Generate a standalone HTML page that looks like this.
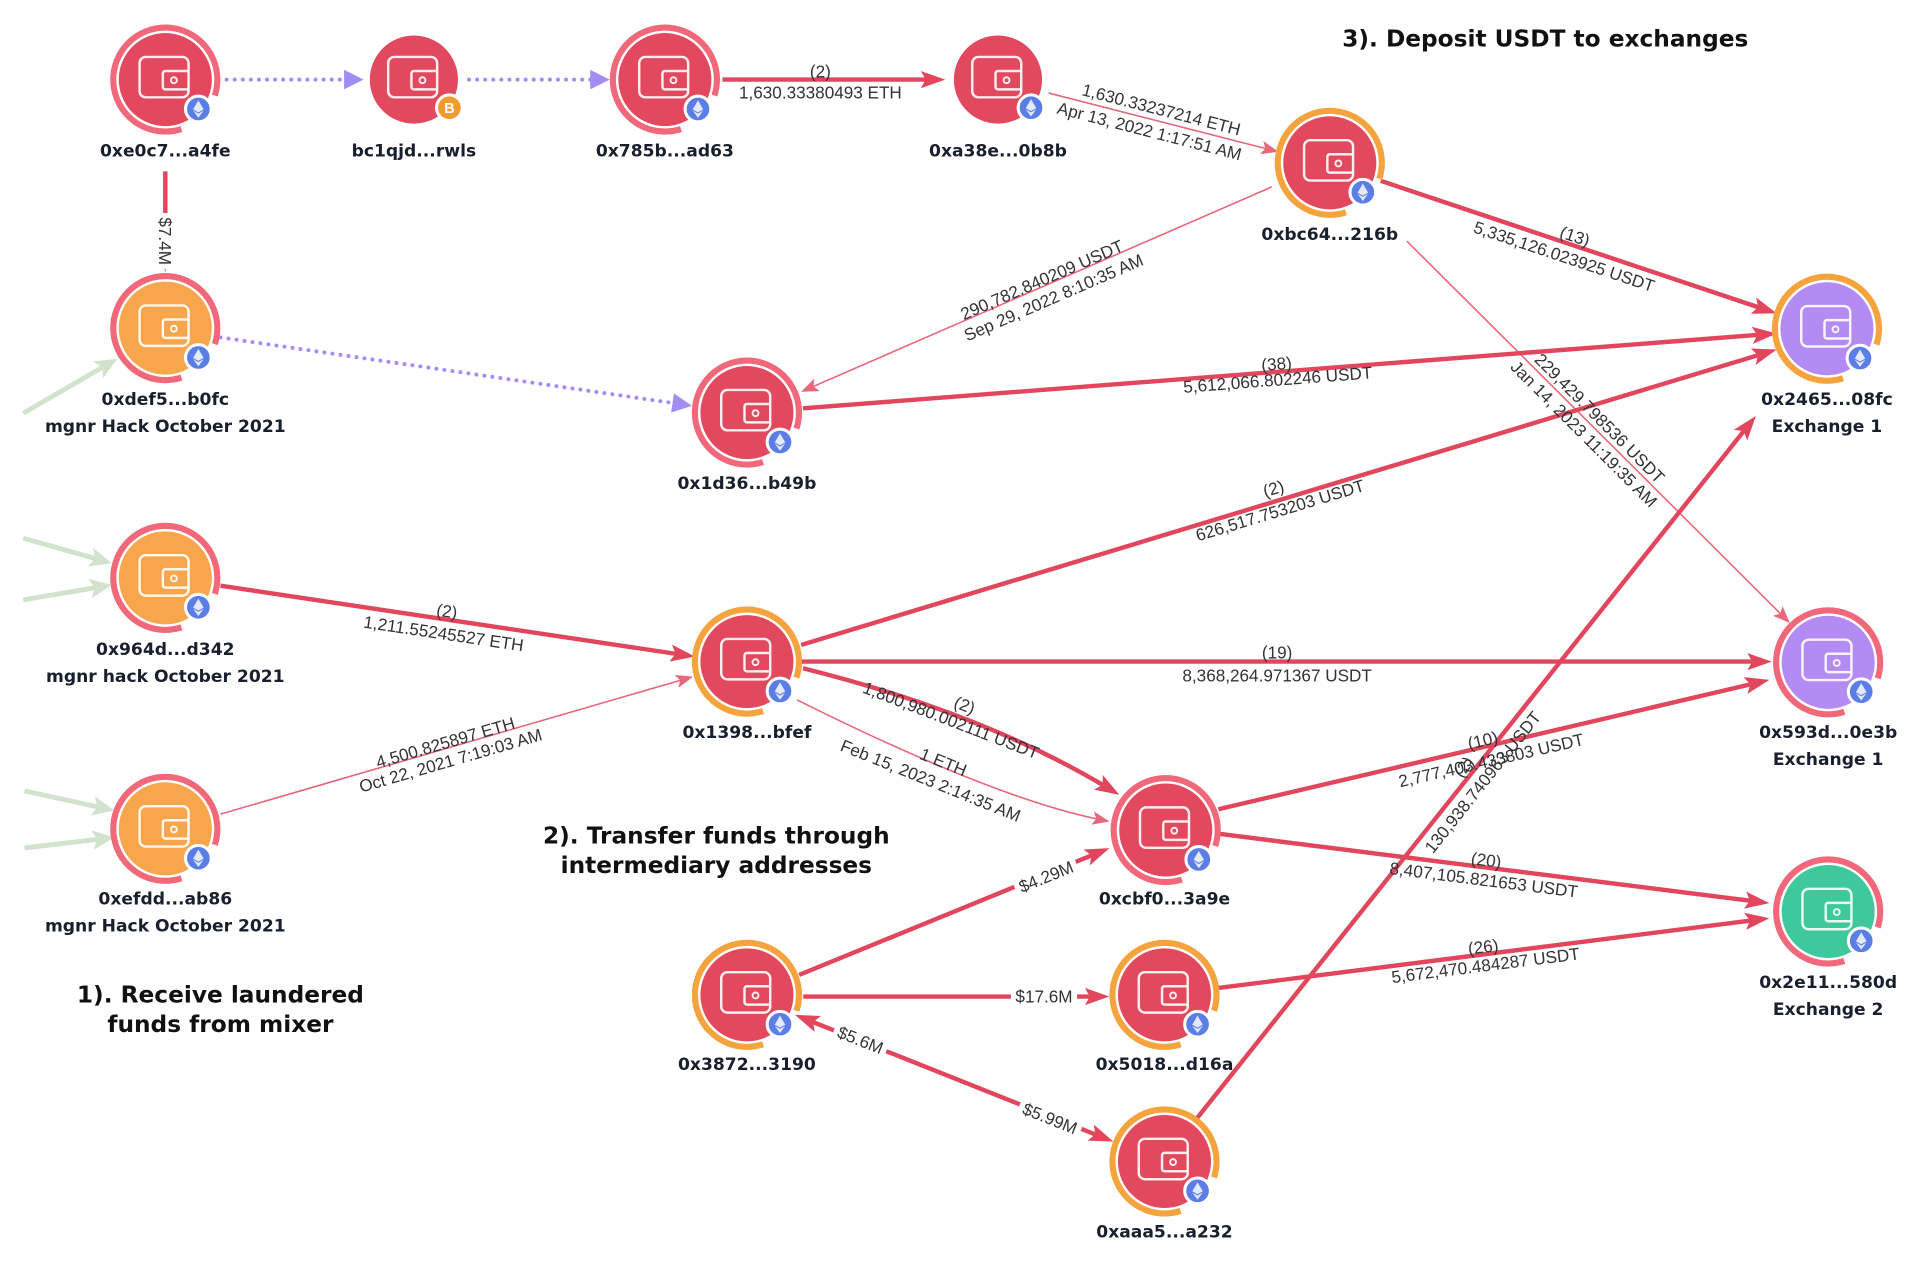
<!DOCTYPE html>
<html><head><meta charset="utf-8"><style>
html,body{margin:0;padding:0;background:#fff;}
svg{display:block;}
.el{font-family:"Liberation Sans",Arial,sans-serif;font-size:14px;fill:#333;text-anchor:middle;}
.nl{font-family:"DejaVu Sans","Liberation Sans",sans-serif;font-weight:bold;font-size:14px;fill:#18202e;text-anchor:middle;}
.an{font-family:"DejaVu Sans","Liberation Sans",sans-serif;font-weight:bold;font-size:19px;fill:#111;text-anchor:middle;}
</style></head><body>
<svg width="1920" height="1261" viewBox="0 0 1568 1030" preserveAspectRatio="none" xmlns="http://www.w3.org/2000/svg">
<defs>
<marker id="aR" viewBox="0 0 20 16" refX="8" refY="8" markerWidth="20" markerHeight="16" markerUnits="userSpaceOnUse" orient="auto"><path d="M0,1 L20,8 L0,15 L4,8Z" fill="#e1465d"/></marker>
<marker id="aRs" viewBox="0 0 20 16" refX="8" refY="8" markerWidth="20" markerHeight="16" markerUnits="userSpaceOnUse" orient="auto-start-reverse"><path d="M0,1 L20,8 L0,15 L4,8Z" fill="#e1465d"/></marker>
<marker id="aT" viewBox="0 0 14 11" refX="6" refY="5.5" markerWidth="14" markerHeight="11" markerUnits="userSpaceOnUse" orient="auto"><path d="M0,0 L14,5.5 L0,11 L3,5.5Z" fill="#e8687b"/></marker>
<marker id="aP" viewBox="0 0 16 16" refX="8" refY="8" markerWidth="16" markerHeight="16" markerUnits="userSpaceOnUse" orient="auto"><path d="M0,0 L16,8 L0,16Z" fill="#a58cf2"/></marker>
<marker id="aG" viewBox="0 0 18 16" refX="7" refY="8" markerWidth="18" markerHeight="16" markerUnits="userSpaceOnUse" orient="auto"><path d="M0,0 L18,8 L0,16 L4,8Z" fill="#d1e2cd"/></marker>
<g id="wal" fill="none" stroke="#fff" stroke-opacity="0.9" stroke-width="2">
<rect x="-21" y="-18.5" width="40" height="33" rx="5"/>
<path d="M19,-7 H0 a2,2 0 0 0 -2,2 V6 a2,2 0 0 0 2,2 H19"/>
<circle cx="7" cy="0.5" r="2.4" stroke-width="1.6"/>
</g>
<g id="eth"><circle r="10.5" fill="#5b7ee6" stroke="#fff" stroke-width="2.5"/>
<path d="M0,-7 L4.3,0.3 L0,2.8 L-4.3,0.3Z" fill="#e3e9ff"/>
<path d="M0,3.8 L4.3,1.3 L0,7.2 L-4.3,1.3Z" fill="#e3e9ff"/></g>
</defs>

<!-- green incoming -->
<g stroke="#d1e2cd" stroke-width="4" fill="none">
<line x1="19" y1="337.5" x2="86.2" y2="298.6" marker-end="url(#aG)"/>
<line x1="19" y1="439.6" x2="80.6" y2="457" marker-end="url(#aG)"/>
<line x1="19" y1="490" x2="80.4" y2="479.6" marker-end="url(#aG)"/>
<line x1="20" y1="646" x2="82.6" y2="659.7" marker-end="url(#aG)"/>
<line x1="20" y1="692.6" x2="82.4" y2="685.3" marker-end="url(#aG)"/>
</g>

<!-- purple dotted -->
<g stroke="#a58cf2" stroke-width="3.2" fill="none" stroke-linecap="round" stroke-dasharray="0.1 6.5">
<line x1="185" y1="65" x2="289" y2="65" marker-end="url(#aP)"/>
<line x1="383" y1="65" x2="490" y2="65" marker-end="url(#aP)"/>
<line x1="180" y1="275.6" x2="557.1" y2="330.3" marker-end="url(#aP)"/>
</g>

<!-- thin edges -->
<g stroke="#e8687b" stroke-width="1.3" fill="none">
<line x1="856.5" y1="76" x2="1036.2" y2="122" marker-end="url(#aT)"/>
<line x1="1038.8" y1="152.6" x2="661.6" y2="316.8" marker-end="url(#aT)"/>
<line x1="1149" y1="197" x2="1456.1" y2="503.3" marker-end="url(#aT)"/>
<line x1="180" y1="665" x2="558.3" y2="554.9" marker-end="url(#aT)"/>
<path d="M651,571.7 Q812,652 898.2,669.4" marker-end="url(#aT)"/>
</g>

<!-- thick edges -->
<g stroke="#e1465d" stroke-width="3.6" fill="none">
<line x1="590" y1="65" x2="760" y2="65" marker-end="url(#aR)"/>
<line x1="135" y1="140" x2="135" y2="210" marker-end="url(#aR)"/>
<line x1="1127.6" y1="147.7" x2="1439.6" y2="252.2" marker-end="url(#aR)"/>
<line x1="655.8" y1="333.5" x2="1439" y2="273.3" marker-end="url(#aR)"/>
<line x1="654.3" y1="526.8" x2="1439.5" y2="289" marker-end="url(#aR)"/>
<line x1="180" y1="478.4" x2="555.7" y2="534.6" marker-end="url(#aR)"/>
<line x1="654.4" y1="540.4" x2="1435" y2="540.4" marker-end="url(#aR)"/>
<path d="M655.8,545.8 Q803,582.6 903.9,643.1" marker-end="url(#aR)"/>
<line x1="995" y1="661" x2="1433.3" y2="558.1" marker-end="url(#aR)"/>
<line x1="995" y1="681" x2="1433.1" y2="736.2" marker-end="url(#aR)"/>
<line x1="995" y1="807" x2="1433.1" y2="751.5" marker-end="url(#aR)"/>
<line x1="977.6" y1="913.3" x2="1426.5" y2="349.1" marker-end="url(#aR)"/>
<line x1="652.7" y1="796.3" x2="894.9" y2="697.3" marker-end="url(#aR)"/>
<line x1="656" y1="814" x2="894" y2="814" marker-end="url(#aR)"/>
<line x1="660.4" y1="833.4" x2="898.2" y2="928.1" marker-start="url(#aRs)" marker-end="url(#aR)"/>
</g>

<!-- edge labels -->
<g class="el">
<text x="670" y="63.5">(2)</text><text x="670" y="80.5">1,630.33380493 ETH</text>
<g transform="translate(944,98.5) rotate(14.4)"><text x="2" y="-5">1,630.33237214 ETH</text><text x="-3" y="14.5">Apr 13, 2022 1:17:51 AM</text></g>
<g transform="translate(853,233.5) rotate(-23.5)"><text y="-0.5">290,782.840209 USDT</text><text x="3" y="16.5">Sep 29, 2022 8:10:35 AM</text></g>
<g transform="translate(1281,199) rotate(18.5)"><text x="3" y="-2.5">(13)</text><text y="16">5,335,126.023925 USDT</text></g>
<g transform="translate(1043,303.7) rotate(-4.4)"><text y="-1.7">(38)</text><text y="11.3">5,612,066.802246 USDT</text></g>
<g transform="translate(1043,409) rotate(-16.85)"><text y="-5.5">(2)</text><text y="13">626,517.753203 USDT</text></g>
<g transform="translate(1300,348) rotate(45)"><text y="-4.2">229,429.798536 USDT</text><text y="14">Jan 14, 2023 11:19:35 AM</text></g>
<g transform="translate(364,506) rotate(8.5)"><text y="-2">(2)</text><text y="16.5">1,211.55245527 ETH</text></g>
<g transform="translate(365,611) rotate(-16.2)"><text y="0.2">4,500.825897 ETH</text><text y="15.5">Oct 22, 2021 7:19:03 AM</text></g>
<text x="1043" y="538">(19)</text><text x="1043" y="556.5">8,368,264.971367 USDT</text>
<g transform="translate(782,580) rotate(21)"><text x="4" y="-1">(2)</text><text x="-2" y="14.5">1,800,980.002111 USDT</text></g>
<g transform="translate(769,626) rotate(22)"><text y="1">1 ETH</text><text x="-4" y="19">Feb 15, 2023 2:14:35 AM</text></g>
<g transform="translate(1212,609.4) rotate(-13)"><text y="0">(10)</text><text x="3" y="17.5">2,777,403.433803 USDT</text></g>
<g transform="translate(1213,708.6) rotate(7.2)"><text y="-1.2">(20)</text><text y="15">8,407,105.821653 USDT</text></g>
<g transform="translate(1212,779.4) rotate(-7.2)"><text y="-1.2">(26)</text><text y="14">5,672,470.484287 USDT</text></g>
<g transform="translate(1201.8,631.6) rotate(-51.5)"><text y="-3.5">(2)</text><text y="16.5">130,938.740963 USDT</text></g>
<g transform="translate(135,197) rotate(90)"><rect x="-23" y="-9" width="46" height="18" fill="#fff"/><text y="5">$7.4M</text></g>
<g transform="translate(854.2,716) rotate(-22.2)"><rect x="-27" y="-9" width="54" height="18" fill="#fff"/><text y="5">$4.29M</text></g>
<g transform="translate(852.6,814)"><rect x="-27" y="-9" width="54" height="18" fill="#fff"/><text y="5">$17.6M</text></g>
<g transform="translate(702.7,849.4) rotate(21.7)"><rect x="-23" y="-9" width="46" height="18" fill="#fff"/><text y="5">$5.6M</text></g>
<g transform="translate(857.5,913.4) rotate(21.7)"><rect x="-27" y="-9" width="54" height="18" fill="#fff"/><text y="5">$5.99M</text></g>
</g>

<!-- nodes -->
<!-- ringed: ring r=42.5 -->
<g transform="translate(135,65)"><circle r="42.5" fill="none" stroke="#f0687a" stroke-width="5" stroke-dasharray="13.3 40 213.7"/><circle r="38" fill="#e2485e"/><use href="#wal"/><use href="#eth" x="27" y="24"/></g>
<g transform="translate(338,65)"><circle r="36" fill="#e2485e"/><use href="#wal"/><circle cx="29" cy="23" r="10.5" fill="#f29a2e" stroke="#fff" stroke-width="2.5"/><text x="29" y="27.5" font-family="Liberation Sans,sans-serif" font-weight="bold" font-size="12" fill="#fff" text-anchor="middle">B</text></g>
<g transform="translate(543,65)"><circle r="42.5" fill="none" stroke="#f0687a" stroke-width="5" stroke-dasharray="13.3 40 213.7"/><circle r="38" fill="#e2485e"/><use href="#wal"/><use href="#eth" x="27" y="24"/></g>
<g transform="translate(815,65)"><circle r="36" fill="#e2485e"/><use href="#wal"/><use href="#eth" x="27" y="23"/></g>
<g transform="translate(1086,133)"><circle r="42.5" fill="none" stroke="#f5a33d" stroke-width="5" stroke-dasharray="13.3 40 213.7"/><circle r="38" fill="#e2485e"/><use href="#wal"/><use href="#eth" x="27" y="24"/></g>
<g transform="translate(135,268)"><circle r="42.5" fill="none" stroke="#f0687a" stroke-width="5" stroke-dasharray="13.3 40 213.7"/><circle r="38" fill="#f7a64b"/><use href="#wal"/><use href="#eth" x="27" y="24"/></g>
<g transform="translate(610,337)"><circle r="42.5" fill="none" stroke="#f0687a" stroke-width="5" stroke-dasharray="13.3 40 213.7"/><circle r="38" fill="#e2485e"/><use href="#wal"/><use href="#eth" x="27" y="24"/></g>
<g transform="translate(1492,268.5)"><circle r="42.5" fill="none" stroke="#f5a33d" stroke-width="5" stroke-dasharray="13.3 40 213.7"/><circle r="38" fill="#b48af3"/><use href="#wal"/><use href="#eth" x="27" y="24"/></g>
<g transform="translate(135,472)"><circle r="42.5" fill="none" stroke="#f0687a" stroke-width="5" stroke-dasharray="13.3 40 213.7"/><circle r="38" fill="#f7a64b"/><use href="#wal"/><use href="#eth" x="27" y="24"/></g>
<g transform="translate(610,540.4)"><circle r="42.5" fill="none" stroke="#f5a33d" stroke-width="5" stroke-dasharray="13.3 40 213.7"/><circle r="38" fill="#e2485e"/><use href="#wal"/><use href="#eth" x="27" y="24"/></g>
<g transform="translate(1493,541)"><circle r="42.5" fill="none" stroke="#f0687a" stroke-width="5" stroke-dasharray="13.3 40 213.7"/><circle r="38" fill="#b48af3"/><use href="#wal"/><use href="#eth" x="27" y="24"/></g>
<g transform="translate(135,677)"><circle r="42.5" fill="none" stroke="#f0687a" stroke-width="5" stroke-dasharray="13.3 40 213.7"/><circle r="38" fill="#f7a64b"/><use href="#wal"/><use href="#eth" x="27" y="24"/></g>
<g transform="translate(952,678)"><circle r="42.5" fill="none" stroke="#f0687a" stroke-width="5" stroke-dasharray="13.3 40 213.7"/><circle r="38" fill="#e2485e"/><use href="#wal"/><use href="#eth" x="27" y="24"/></g>
<g transform="translate(1493,744.5)"><circle r="42.5" fill="none" stroke="#f0687a" stroke-width="5" stroke-dasharray="13.3 40 213.7"/><circle r="38" fill="#3ec89c"/><use href="#wal"/><use href="#eth" x="27" y="24"/></g>
<g transform="translate(610,812.6)"><circle r="42.5" fill="none" stroke="#f5a33d" stroke-width="5" stroke-dasharray="13.3 40 213.7"/><circle r="38" fill="#e2485e"/><use href="#wal"/><use href="#eth" x="27" y="24"/></g>
<g transform="translate(951,812.6)"><circle r="42.5" fill="none" stroke="#f5a33d" stroke-width="5" stroke-dasharray="13.3 40 213.7"/><circle r="38" fill="#e2485e"/><use href="#wal"/><use href="#eth" x="27" y="24"/></g>
<g transform="translate(951,948.7)"><circle r="42.5" fill="none" stroke="#f5a33d" stroke-width="5" stroke-dasharray="13.3 40 213.7"/><circle r="38" fill="#e2485e"/><use href="#wal"/><use href="#eth" x="27" y="24"/></g>

<!-- node labels -->
<g class="nl">
<text x="135" y="128">0xe0c7...a4fe</text>
<text x="338" y="128">bc1qjd...rwls</text>
<text x="543" y="128">0x785b...ad63</text>
<text x="815" y="128">0xa38e...0b8b</text>
<text x="1086" y="196">0xbc64...216b</text>
<text x="135" y="331">0xdef5...b0fc</text><text x="135" y="353">mgnr Hack October 2021</text>
<text x="610" y="399.5">0x1d36...b49b</text>
<text x="1492" y="331">0x2465...08fc</text><text x="1492" y="353">Exchange 1</text>
<text x="135" y="535">0x964d...d342</text><text x="135" y="557">mgnr hack October 2021</text>
<text x="610" y="603">0x1398...bfef</text>
<text x="1493" y="603">0x593d...0e3b</text><text x="1493" y="625">Exchange 1</text>
<text x="135" y="739">0xefdd...ab86</text><text x="135" y="761">mgnr Hack October 2021</text>
<text x="951" y="739">0xcbf0...3a9e</text>
<text x="1493" y="807">0x2e11...580d</text><text x="1493" y="829">Exchange 2</text>
<text x="610" y="874">0x3872...3190</text>
<text x="951" y="874">0x5018...d16a</text>
<text x="951" y="1011">0xaaa5...a232</text>
</g>

<!-- annotations -->
<g class="an">
<text x="1262" y="38">3). Deposit USDT to exchanges</text>
<text x="585" y="689">2). Transfer funds through</text>
<text x="585" y="713">intermediary addresses</text>
<text x="180" y="819">1). Receive laundered</text>
<text x="180" y="843">funds from mixer</text>
</g>
</svg>
</body></html>
